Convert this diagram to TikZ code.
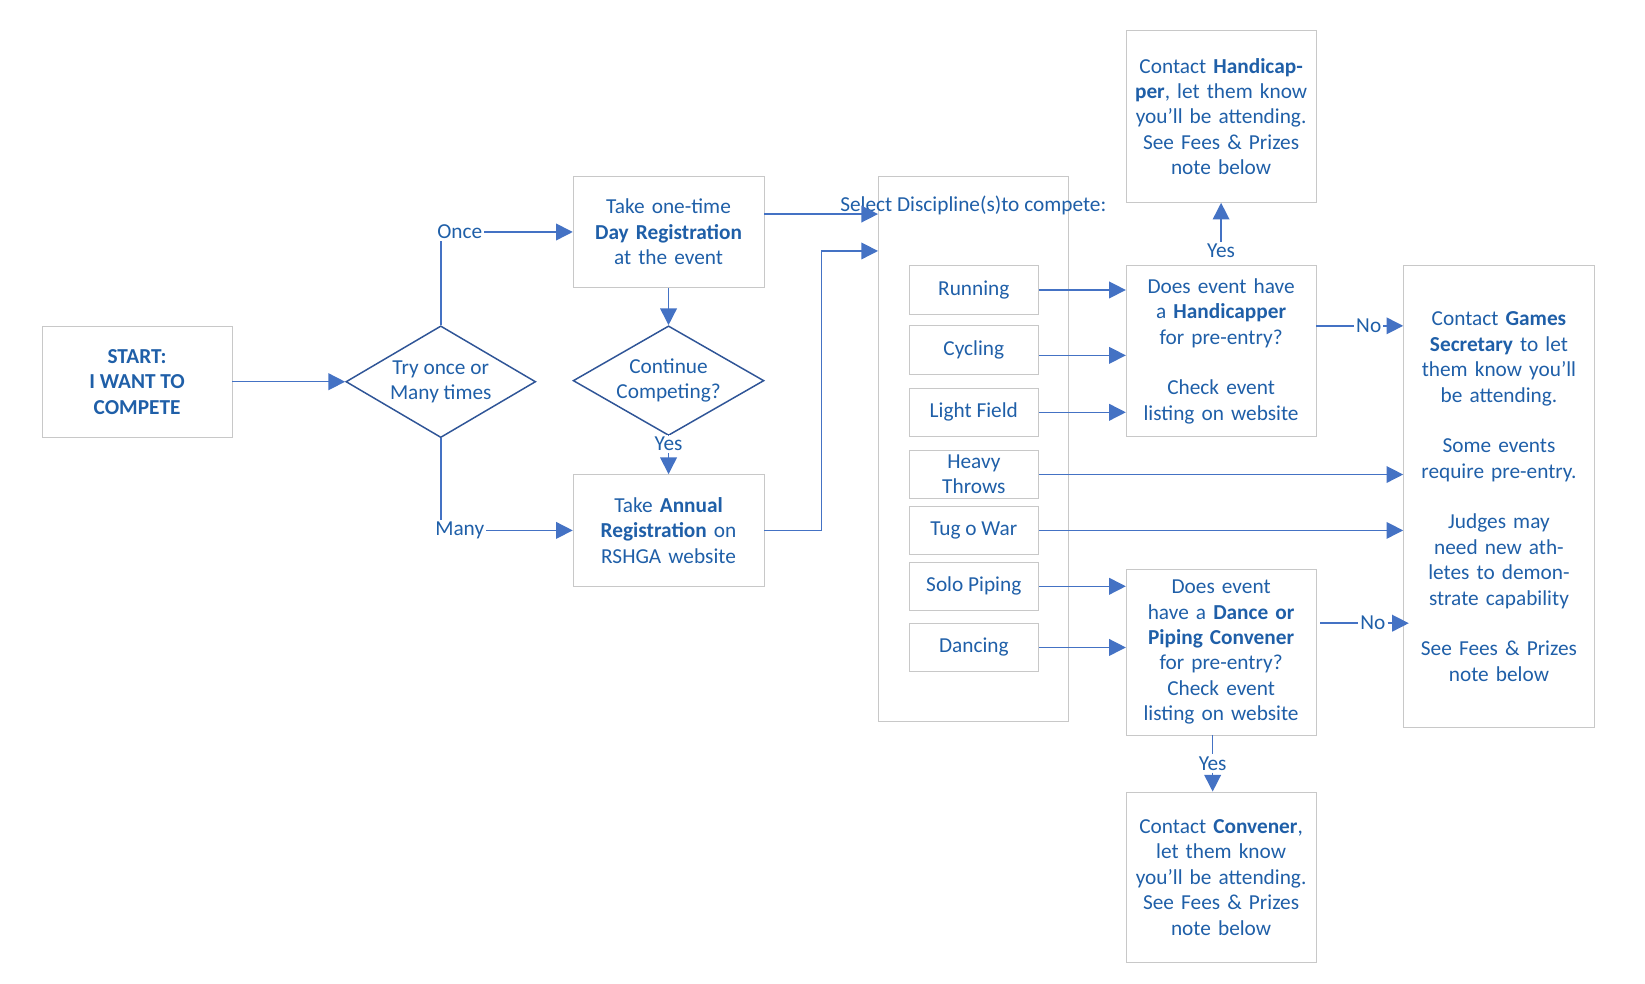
\documentclass[tikz,border=0pt]{standalone}
\usepackage{fontspec}
\setmainfont{Carlito}
\usetikzlibrary{arrows.meta,shapes.geometric}
\definecolor{txtblue}{HTML}{1F5FA8}
\definecolor{arrblue}{HTML}{4472C4}
\definecolor{boxgray}{HTML}{C8C8C8}
\definecolor{dmdblue}{HTML}{2F5597}
\newcommand{\hl}[1]{\textbf{#1}}
\tikzset{
  box/.style={draw=boxgray, thin, align=center, text=txtblue, inner sep=2pt,
    font=\fontsize{11.5}{13.7}\selectfont},
  dmd/.style={diamond, draw=dmdblue, thick, align=center, text=txtblue, aspect=1.7,
    inner sep=0pt, font=\fontsize{11.5}{13.7}\selectfont},
  lbl/.style={text=txtblue, inner sep=1pt, font=\fontsize{11.5}{13.7}\selectfont},
  arr/.style={-{Triangle[length=9pt,width=9pt]}, arrblue, thick},
  ln/.style={arrblue, thick},
}
\begin{document}
\begin{tikzpicture}[x=0.02cm, y=-0.02cm]
  \useasboundingbox (0,0) rectangle (1560,933);
  % start and choice
  \node[box, minimum width=3.6cm, minimum height=2.1cm] (start) at (130,362)
    {\hl{START:}\\\hl{I WANT TO}\\\hl{COMPETE}};
  \node[dmd, minimum width=3.6cm, minimum height=2.12cm] (d1) at (418,362)
    {Try once or\\Many times};
  % registrations
  \node[box, minimum width=3.62cm, minimum height=2.12cm, text width=3.4cm] (day) at (634,220)
    {Take one-time \hl{Day Registration} at the event};
  \node[dmd, minimum width=3.62cm, minimum height=2.08cm] (d2) at (634,361)
    {Continue\\Competing?};
  \node[box, minimum width=3.62cm, minimum height=2.12cm, text width=3.2cm] (annual) at (634,503)
    {Take \hl{Annual Registration} on RSHGA website};
  \node[lbl] (once) at (436,220) {Once};
  \node[lbl] (many) at (436,503) {Many};
  \node[lbl, fill=white] (yes1) at (634,421) {Yes};
  \draw[ln] (d1.north) -- (d1.north |- once.south);
  \draw[arr] (once.east) -- (day.west |- once);
  \draw[ln] (d1.south) -- (d1.south |- many.north);
  \draw[arr] (many.east) -- (annual.west |- many);
  \draw[arr] (start.east) -- (d1.west);
  \draw[arr] (day.south) -- (d2.north);
  \draw[ln] (d2.south) -- (yes1.north);
  \draw[arr] (yes1.south) -- (annual.north);
  % disciplines
  \node[box, minimum width=3.6cm, minimum height=10.34cm] (disc) at (923,425.5) {};
  \node[lbl, anchor=north] (disctxt) at (923,184) {Select Discipline(s)\\to compete:};
  \foreach \nm/\yy/\txt in {run/275/Running, cyc/332/Cycling, lf/391/Light Field,
      ht/450/{Heavy\\Throws}, tug/503/Tug o War, solo/556/Solo Piping, dance/614/Dancing}
    \node[box, minimum width=2.46cm, minimum height=0.92cm, inner sep=0pt] (\nm) at (923.5,\yy) {\txt};
  \draw[arr] (day.east |- 0,203) -- (disc.west |- 0,203);
  \coordinate (bend) at (779,503);
  \draw[arr] (annual.east) -- (bend) |- (disc.west |- 0,238);
  % questions
  \node[box, minimum width=3.6cm, minimum height=3.24cm, text width=3.4cm] (qh) at (1158,333)
    {Does event have a \hl{Handicapper}\\for pre-entry?\\[\baselineskip]Check event listing on website};
  \node[box, minimum width=3.6cm, minimum height=3.26cm, text width=3.4cm] (top) at (1158,110.5)
    {Contact \hl{Handicapper}, let them know you’ll be attending.\\See Fees \& Prizes note below};
  \node[box, minimum width=3.6cm, minimum height=3.14cm, text width=3.4cm] (qd) at (1158,618.5)
    {Does event have a \hl{Dance or Piping Convener} for pre-entry?\\Check event listing on website};
  \node[box, minimum width=3.6cm, minimum height=3.24cm, text width=3.4cm] (bot) at (1158,832)
    {Contact \hl{Convener}, let them know you’ll be attending.\\See Fees \& Prizes note below};
  \node[box, minimum width=3.62cm, minimum height=8.76cm, text width=3.45cm] (games) at (1421.5,471)
    {Contact \hl{Games Secretary} to let them know you’ll be attending.\\[\baselineskip]
     Some events require pre-entry.\\[\baselineskip]
     Judges may need new athletes to demonstrate capability\\[\baselineskip]
     See Fees \& Prizes note below};
  % discipline arrows
  \draw[arr] (run.east) -- (qh.west |- run);
  \draw[arr] (cyc.east |- 0,337) -- (qh.west |- 0,337);
  \draw[arr] (lf.east) -- (qh.west |- lf);
  \draw[arr] (ht.east) -- (games.west |- ht);
  \draw[arr] (tug.east) -- (games.west |- tug);
  \draw[arr] (solo.east) -- (qd.west |- solo);
  \draw[arr] (dance.east) -- (qd.west |- dance);
  % yes / no
  \node[lbl] (yes2) at (1158,238) {Yes};
  \draw[arr] (yes2.north) -- (top.south);
  \node[lbl] (no1) at (1298,309) {No};
  \draw[ln] (qh.east |- no1) -- (no1.west);
  \draw[arr] (no1.east) -- (games.west |- no1);
  \node[lbl] (no2) at (1302,591) {No};
  \draw[ln] (1252,591) -- (no2.west);
  \draw[arr] (no2.east) -- (1336,591);
  \node[lbl] (yes3) at (1150,724) {Yes};
  \draw[ln] (qd.south -| yes3) -- (yes3.north);
  \draw[arr] (yes3.south) -- (bot.north -| yes3);
\end{tikzpicture}
\end{document}
